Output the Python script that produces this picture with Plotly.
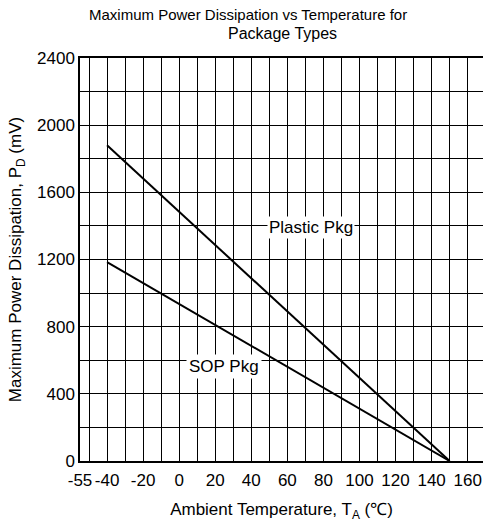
import plotly.graph_objects as go

# ---- data ----
temps = [-40, 150]                 # ambient temperature (°C)
plastic_pd = [1880, 0]             # Plastic Pkg max power dissipation
sop_pd = [1185, 0]                 # SOP Pkg max power dissipation

x_tickvals = [-55, -40, -20, 0, 20, 40, 60, 80, 100, 120, 140, 160]
x_ticktext = ["-55", "-40", "-20", "0", "20", "40", "60", "80", "100", "120", "140", "160"]
y_tickvals = [0, 400, 800, 1200, 1600, 2000, 2400]

title_line1 = "Maximum Power Dissipation vs Temperature for"
title_line2 = "Package Types"

FONT = "Arial, 'Liberation Sans', sans-serif"

fig = go.Figure()
fig.add_trace(go.Scatter(x=temps, y=plastic_pd, mode="lines",
                         line=dict(color="black", width=2), name="Plastic Pkg",
                         showlegend=False))
fig.add_trace(go.Scatter(x=temps, y=sop_pd, mode="lines",
                         line=dict(color="black", width=2), name="SOP Pkg",
                         showlegend=False))

fig.add_annotation(x=73, y=1390, text="Plastic Pkg", showarrow=False,
                   bgcolor="white", borderpad=1,
                   font=dict(family=FONT, size=17, color="black"))
fig.add_annotation(x=25, y=560, text="SOP Pkg", showarrow=False,
                   bgcolor="white", borderpad=2,
                   font=dict(family=FONT, size=17, color="black"))

fig.add_annotation(xref="paper", yref="paper", x=0.418, y=1.109,
                   text=title_line1, showarrow=False, xanchor="center", yanchor="middle",
                   font=dict(family=FONT, size=15, color="black"))
fig.add_annotation(xref="paper", yref="paper", x=0.5025, y=1.062,
                   text=title_line2, showarrow=False, xanchor="center", yanchor="middle",
                   font=dict(family=FONT, size=16, color="black"))

fig.update_xaxes(
    range=[-55, 168.5], tickvals=x_tickvals, ticktext=x_ticktext, tickangle=0,
    automargin=False, ticklabelstandoff=3,
    showgrid=True, gridcolor="black", gridwidth=1,
    minor=dict(dtick=10, tick0=-50, showgrid=True, gridcolor="black", gridwidth=1),
    showline=True, linecolor="black", linewidth=1.5, mirror=True,
    zeroline=False, ticks="",
    tickfont=dict(family=FONT, size=17, color="black"),
    title=dict(text="Ambient Temperature, T<sub>A</sub> (℃)",
               font=dict(family=FONT, size=17, color="black"), standoff=14),
)
fig.update_yaxes(
    range=[0, 2400], tickvals=y_tickvals,
    automargin=False,
    showgrid=True, gridcolor="black", gridwidth=1,
    minor=dict(dtick=200, tick0=0, showgrid=True, gridcolor="black", gridwidth=1),
    showline=True, linecolor="black", linewidth=1.5, mirror=False,
    zeroline=False, ticks="",
    tickfont=dict(family=FONT, size=17, color="black"),
    title=dict(text="Maximum Power Dissipation, P<sub>D</sub> (mV)",
               font=dict(family=FONT, size=17, color="black"), standoff=11),
)

fig.update_layout(
    width=483, height=524,
    margin=dict(l=80, r=0, t=58, b=63),
    paper_bgcolor="white", plot_bgcolor="white",
    font=dict(family=FONT, color="black"),
)

fig.write_html("out.html", config={"displayModeBar": False},
               post_script="document.body.style.margin='0';document.body.style.overflow='hidden';")
